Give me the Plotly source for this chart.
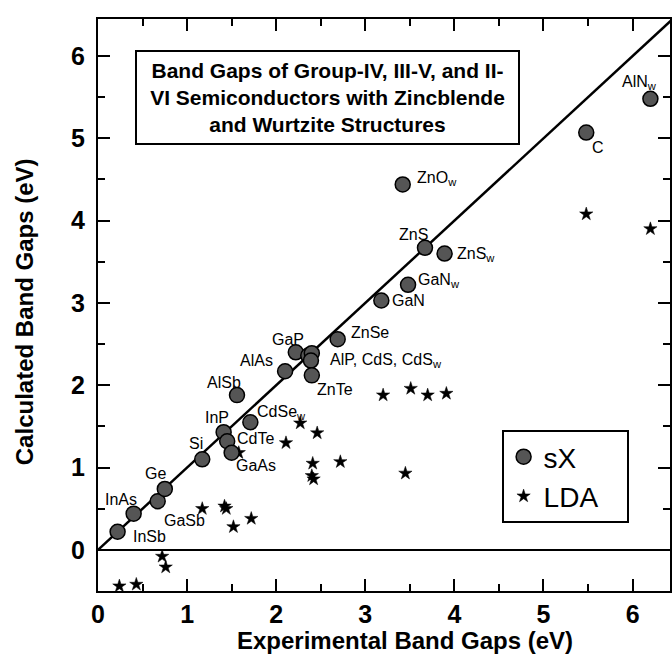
import plotly.graph_objects as go

# ---- data -------------------------------------------------------------
# screened-exchange (sX) results: experimental vs calculated gap (eV)
sx_names = ["InSb", "InAs", "GaSb", "Ge", "Si", "InP", "CdTe", "GaAs",
            "AlSb", "CdSe_w", "AlAs", "GaP", "AlP", "CdS", "CdS_w", "ZnTe",
            "ZnSe", "GaN", "GaN_w", "ZnO_w", "ZnS", "ZnS_w", "C", "AlN_w"]
sx_exp = [0.22, 0.40, 0.67, 0.75, 1.17, 1.41, 1.45, 1.50,
          1.56, 1.71, 2.10, 2.22, 2.36, 2.40, 2.39, 2.40,
          2.69, 3.18, 3.48, 3.42, 3.67, 3.89, 5.48, 6.20]
sx_calc = [0.22, 0.44, 0.59, 0.74, 1.10, 1.43, 1.32, 1.18,
           1.88, 1.55, 2.17, 2.40, 2.36, 2.39, 2.30, 2.12,
           2.56, 3.03, 3.22, 4.44, 3.67, 3.60, 5.07, 5.48]

# LDA results
lda_exp = [0.24, 0.43, 0.72, 0.76, 1.17, 1.42, 1.44, 1.52, 1.72, 1.58,
           2.11, 2.27, 2.46, 2.41, 2.72, 2.40, 2.42, 3.20, 3.51, 3.70,
           3.91, 3.45, 5.48, 6.20]
lda_calc = [-0.44, -0.42, -0.08, -0.21, 0.50, 0.53, 0.50, 0.28, 0.38, 1.18,
            1.30, 1.54, 1.42, 1.05, 1.07, 0.90, 0.86, 1.88, 1.96, 1.88,
            1.90, 0.93, 4.08, 3.90]

x_ticks = [0, 1, 2, 3, 4, 5, 6]
y_ticks = [0, 1, 2, 3, 4, 5, 6]

# point labels: (point name, text, x offset px, y offset px)
point_labels = [
    ("InSb", "InSb", 32, -5),
    ("InAs", "InAs", -13, 14),
    ("GaSb", "GaSb", 27, -19),
    ("Ge", "Ge", -9, 15),
    ("Si", "Si", -6, 16),
    ("InP", "InP", -7, 15),
    ("CdTe", "CdTe", 28, 3),
    ("GaAs", "GaAs", 24, -13),
    ("CdSe_w", "CdSe<sub>w</sub>", 31, 10),
    ("AlSb", "AlSb", -13, 13),
    ("AlAs", "AlAs", -29, 11),
    ("GaP", "GaP", -8, 13),
    ("ZnSe", "ZnSe", 32, 7),
    ("CdS", "AlP, CdS, CdS<sub>w</sub>", 74, -7),
    ("ZnTe", "ZnTe", 23, -14),
    ("ZnO_w", "ZnO<sub>w</sub>", 34, 6),
    ("ZnS", "ZnS", -11, 13),
    ("ZnS_w", "ZnS<sub>w</sub>", 31, -1),
    ("GaN_w", "GaN<sub>w</sub>", 31, 4),
    ("GaN", "GaN", 27, 0),
    ("C", "C", 12, -15),
    ("AlN_w", "AlN<sub>w</sub>", -11, 16),
]

X_RANGE = [0, 6.42]
Y_RANGE = [-0.5, 6.45]

FONT = "Liberation Sans, Arial, Helvetica, sans-serif"
PAD = "\u00a0" * 3  # keeps the legend box a little wider than its text

fig = go.Figure()

# y = x reference line
fig.add_trace(go.Scatter(
    x=[0, 7], y=[0, 7], mode="lines",
    line=dict(color="black", width=2.5),
    showlegend=False, hoverinfo="skip"))

fig.add_trace(go.Scatter(
    x=lda_exp, y=lda_calc, mode="markers", name="LDA" + PAD,
    marker=dict(symbol="star", size=10, color="black",
                line=dict(color="black", width=0.5))))

fig.add_trace(go.Scatter(
    x=sx_exp, y=sx_calc, mode="markers", name="sX" + PAD,
    marker=dict(symbol="circle", size=15, color="#555555",
                line=dict(color="black", width=1.5))))

lookup = {n: (x, y) for n, x, y in zip(sx_names, sx_exp, sx_calc)}
for name, text, dx, dy in point_labels:
    px, py = lookup[name]
    fig.add_annotation(
        x=px, y=py, xref="x", yref="y", text=text, showarrow=False,
        xanchor="center", yanchor="middle", xshift=dx, yshift=dy,
        font=dict(family=FONT, size=16, color="black"))

# boxed title inside the plot
fig.add_annotation(
    xref="paper", yref="paper", x=0.4007, y=0.8628,
    xanchor="center", yanchor="middle", showarrow=False,
    text=("<b>Band Gaps of Group-IV, III-V, and II-<br>"
          "VI Semiconductors with Zincblende<br>"
          "and Wurtzite Structures</b>"),
    font=dict(family=FONT, size=21, color="black"),
    bordercolor="black", borderwidth=2, borderpad=2, bgcolor="white",
    width=377, height=87, align="center")

# axis titles
fig.add_annotation(
    xref="paper", yref="paper", x=0.5366, y=-0.0857,
    xanchor="center", yanchor="middle", showarrow=False,
    text="<b>Experimental Band Gaps (eV)</b>",
    font=dict(family=FONT, size=24, color="black"))
fig.add_annotation(
    xref="paper", yref="paper", x=-0.127, y=0.488,
    xanchor="center", yanchor="middle", showarrow=False, textangle=-90,
    text="<b>Calculated Band Gaps (eV)</b>",
    font=dict(family=FONT, size=24, color="black"))

axis_common = dict(
    showgrid=False, showline=True, linecolor="black", linewidth=2,
    mirror="ticks", ticks="inside", ticklen=12, tickwidth=2,
    tickcolor="black",
    tickfont=dict(family=FONT, size=25, color="black"),
    minor=dict(ticks="inside", ticklen=7, tickwidth=2, tickcolor="black",
               dtick=0.5, showgrid=False),
)

fig.update_xaxes(range=X_RANGE, tickvals=x_ticks,
                 ticktext=[f"<b>{v}</b>" for v in x_ticks], zeroline=False,
                 ticklabelstandoff=0, **axis_common)
fig.update_yaxes(range=Y_RANGE, tickvals=y_ticks,
                 ticktext=[f"<b>{v}</b>" for v in y_ticks], zeroline=True,
                 zerolinecolor="black", zerolinewidth=1.5,
                 ticklabelstandoff=6, **axis_common)

fig.update_layout(
    width=672, height=662,
    margin=dict(l=98, r=0, t=19, b=71),
    paper_bgcolor="white", plot_bgcolor="white",
    font=dict(family=FONT, color="black"),
    legend=dict(
        x=0.7056, y=0.2815, xanchor="left", yanchor="top",
        bordercolor="black", borderwidth=2, bgcolor="white",
        font=dict(family=FONT, size=28, color="black"),
        traceorder="reversed"),
)

fig.write_html("out.html")
